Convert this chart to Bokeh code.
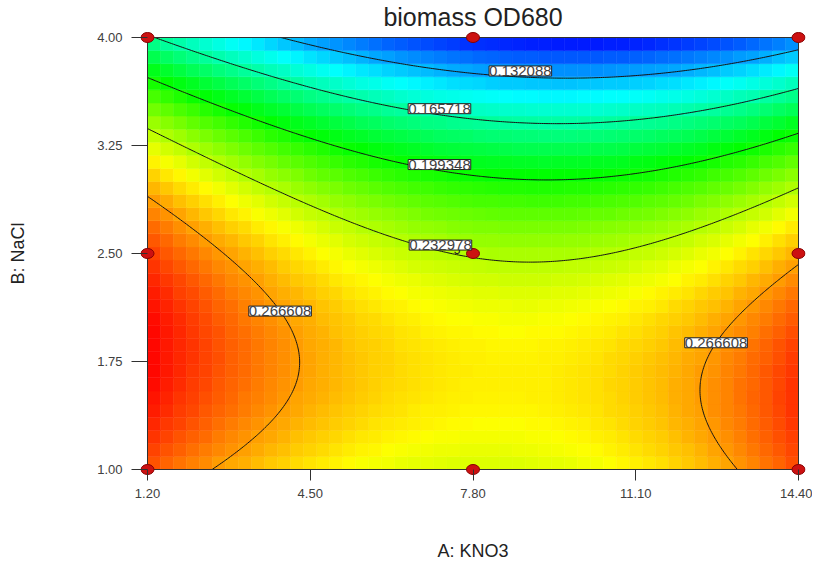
import numpy as np
import colorsys
from bokeh.plotting import figure
from bokeh.models import ColumnDataSource, LabelSet, FixedTicker, PrintfTickFormatter
from bokeh.transform import linear_cmap
from bokeh.core.properties import value
from bokeh.embed import file_html
from bokeh.resources import INLINE

# ---- data ----
x_ticks = [1.20, 4.50, 7.80, 11.10, 14.40]
y_ticks = [1.00, 1.75, 2.50, 3.25, 4.00]
levels = [0.132088, 0.165718, 0.199348, 0.232978, 0.266608]

# estimated response (biomass OD680) at a 4x4 grid of KNO3 x NaCl
grid_kno3 = [1.2, 5.6, 10.0, 14.4]
grid_nacl = [1.0, 2.0, 3.0, 4.0]
od680_nacl_1 = [0.2801, 0.2449, 0.2430, 0.2823]
od680_nacl_2 = [0.2968, 0.2558, 0.2484, 0.2824]
od680_nacl_3 = [0.2603, 0.2136, 0.2007, 0.2295]
od680_nacl_4 = [0.1679, 0.1155, 0.0971, 0.1206]

# design points (KNO3, NaCl)
design_kno3 = [1.2, 7.8, 14.4, 1.2, 7.8, 14.4, 1.2, 7.8, 14.4]
design_nacl = [1.0, 1.0, 1.0, 2.5, 2.5, 2.5, 4.0, 4.0, 4.0]
center_reps = ["5"]

# contour-label anchors (KNO3 for the upper contours, NaCl for the two 0.266608 labels)
label_kno3 = [8.76, 7.12, 7.12, 7.14]
label_nacl = [2.10, 1.88]

# ---- response surface through the grid (cubic Lagrange in each factor) ----
G = np.array([od680_nacl_1, od680_nacl_2, od680_nacl_3, od680_nacl_4])
gxa = np.array(grid_kno3)
gya = np.array(grid_nacl)


def lagr(nodes, t):
    t = np.asarray(t, dtype=float)
    out = []
    for i, ni in enumerate(nodes):
        term = np.ones_like(t)
        for j, nj in enumerate(nodes):
            if j != i:
                term = term * (t - nj) / (ni - nj)
        out.append(term)
    return np.stack(out, -1)


def surf(x, y):
    lx = lagr(gxa, x)
    ly = lagr(gya, y)
    return np.einsum("...j,ji,...i->...", ly, G, lx)


x0, x1 = x_ticks[0], x_ticks[-1]
y0, y1 = y_ticks[0], y_ticks[-1]
# a few pixels of room around the box so the edge dots are not clipped
PLOT_W, PLOT_H = 651, 432
PADX_PX, PADY_PX = 7, 6
padx = PADX_PX * (x1 - x0) / PLOT_W
pady = PADY_PX * (y1 - y0) / PLOT_H

W, H = 812, 563
p = figure(width=W, height=H, x_range=(x0 - padx, x1 + padx), y_range=(y0 - pady, y1 + pady),
           output_backend="svg", toolbar_location=None,
           min_border_left=140, min_border_right=W - 805, min_border_top=31, min_border_bottom=H - 475)
p.outline_line_color = None

# colour cells
nx, ny = 50, 33
xe = np.linspace(x0, x1, nx + 1)
ye = np.linspace(y0, y1, ny + 1)
XC, YC = np.meshgrid((xe[:-1] + xe[1:]) / 2, (ye[:-1] + ye[1:]) / 2)
ZC = surf(XC, YC)
L, Bm = np.meshgrid(xe[:-1], ye[:-1])
R, T = np.meshgrid(xe[1:], ye[1:])

pal = []
for i in range(256):
    h = (240 - 240 * i / 255) / 360
    r, g, b = colorsys.hsv_to_rgb(h, 1, 1)
    pal.append("#%02x%02x%02x" % (int(r * 255), int(g * 255), int(b * 255)))

xf = np.linspace(x0, x1, 300)
yf = np.linspace(y0, y1, 200)
XF, YF = np.meshgrid(xf, yf)
ZF = surf(XF, YF)
zmin, zmax = float(ZF.min()), float(ZF.max())
cmap = linear_cmap("z", pal, zmin, zmax)
src = ColumnDataSource(dict(left=L.ravel(), right=R.ravel(), bottom=Bm.ravel(), top=T.ravel(), z=ZC.ravel()))
p.quad(left="left", right="right", bottom="bottom", top="top", source=src,
       fill_color=cmap, line_color=cmap, line_width=0.5)

p.contour(x=xf, y=yf, z=ZF, levels=levels, line_color="#151515", line_width=1, fill_color=None)

# box around the design space
p.quad(left=[x0], right=[x1], bottom=[y0], top=[y1], fill_color=None, line_color="#303030", line_width=1)

# contour labels placed on their lines
lx, ly, lt, lo = [], [], [], []
ys_scan = np.linspace(y1, y0, 3001)
for lev, xx in zip(levels[:4], label_kno3):
    vals = surf(np.full_like(ys_scan, xx), ys_scan) - lev
    idx = np.where(np.sign(vals[:-1]) != np.sign(vals[1:]))[0]
    yy = ys_scan[idx[0]] if len(idx) else 2.5
    lx.append(xx); ly.append(float(yy)); lt.append("%.6f" % lev); lo.append(6)
xs_scan = np.linspace(x0, x1, 3001)
for k, yy in enumerate(label_nacl):
    vals = surf(xs_scan, np.full_like(xs_scan, yy)) - levels[4]
    idx = np.where(np.sign(vals[:-1]) != np.sign(vals[1:]))[0]
    if len(idx):
        xx = xs_scan[idx[0]] if k == 0 else xs_scan[idx[-1]]
    else:
        xx = 4.0 if k == 0 else 12.0
    lx.append(float(xx)); ly.append(yy); lt.append("%.6f" % levels[4]); lo.append(0)
lsrc = ColumnDataSource(dict(x=lx, y=ly, t=lt, yo=lo))
p.add_layout(LabelSet(x="x", y="y", text="t", y_offset="yo", source=lsrc, text_align="center",
                      text_baseline="middle", text_font=value("Liberation Sans"), text_font_size="15px",
                      text_color="#404040", background_fill_color="white", border_line_color="#202020",
                      border_line_width=1))

p.ellipse(x=design_kno3, y=design_nacl, width=13, height=10, width_units="screen", height_units="screen",
          fill_color="#cc1111", line_color="#880000", line_width=1)
p.text(x=[design_kno3[4]], y=[design_nacl[4]], text=center_reps, x_offset=-16, y_offset=-4,
       text_font=value("Liberation Sans"), text_font_size="12px", text_color="#222222",
       text_align="center", text_baseline="middle")

p.title.text = "biomass OD680"
p.title.align = "center"
p.title.text_font = "Liberation Sans"
p.title.text_font_size = "25px"
p.title.text_font_style = "normal"
p.title.text_color = "#222222"
p.title.standoff = 1

p.xgrid.visible = False
p.ygrid.visible = False
for ax, t_in, t_out in ((p.xaxis, PADY_PX, 11 - PADY_PX), (p.yaxis, PADX_PX, 16 - PADX_PX)):
    ax.axis_line_color = None
    ax.major_tick_line_color = "#303030"
    ax.major_tick_out = t_out
    ax.major_tick_in = t_in
    ax.minor_tick_line_color = None
    ax.major_label_text_font = "Liberation Sans"
    ax.major_label_text_font_size = "13px"
    ax.major_label_text_color = "#404040"
    ax.formatter = PrintfTickFormatter(format="%.2f")
    ax.axis_label_text_font = "Liberation Sans"
    ax.axis_label_text_font_size = "18px"
    ax.axis_label_text_font_style = "normal"
    ax.axis_label_text_color = "#222222"
p.xaxis.ticker = FixedTicker(ticks=x_ticks)
p.yaxis.ticker = FixedTicker(ticks=y_ticks)
p.xaxis.axis_label = "A: KNO3"
p.yaxis.axis_label = "B: NaCl"
p.xaxis.major_label_standoff = 8
p.xaxis.axis_label_standoff = 40
p.yaxis.major_label_standoff = 9
p.yaxis.axis_label_standoff = 66

open("out.html", "w").write(file_html(p, INLINE))
